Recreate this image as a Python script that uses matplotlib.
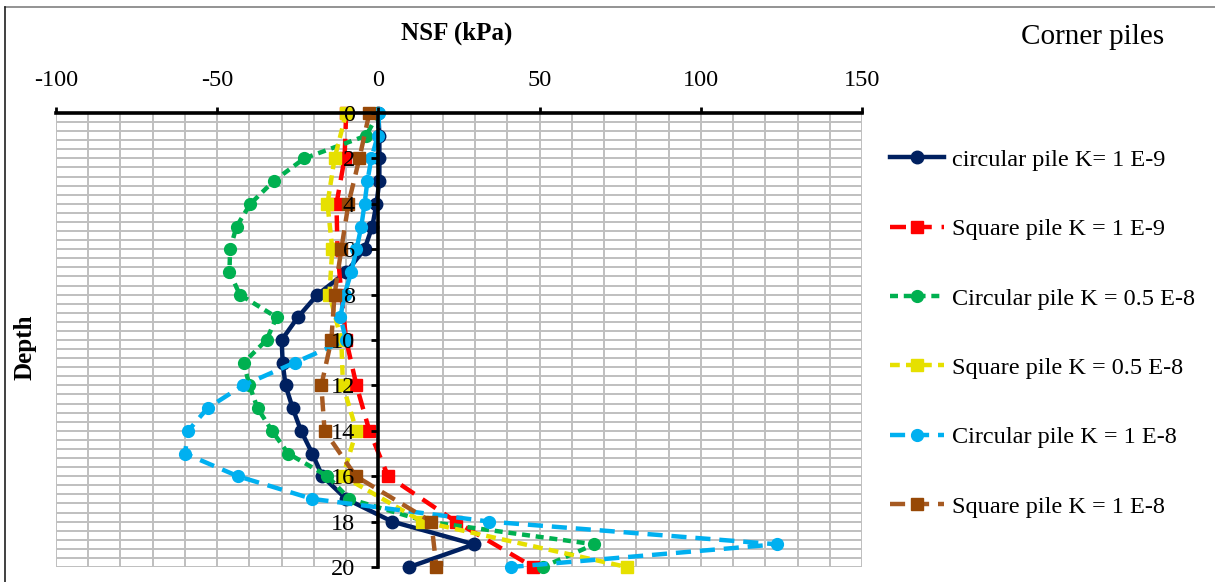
import matplotlib
matplotlib.use("Agg")
import matplotlib.pyplot as plt
from matplotlib.ticker import MultipleLocator
from matplotlib.lines import Line2D
import numpy as np

plt.rcParams["font.family"] = ["Liberation Serif", "DejaVu Serif"]
plt.rcParams["axes.unicode_minus"] = False

# depth below the pile head (m)
depth_circ = list(range(0, 21))
depth_sq = list(range(0, 21, 2))

# negative skin friction, corner piles (kPa)
circ_k1e9 = [0, 0.3, 0.3, 0.3, -0.6, -1.9, -4.3, -9.9, -18.9, -25, -30, -29.7,
             -28.8, -26.6, -24, -20.5, -17.4, -10, 4.3, 29.7, 9.6]
sq_k1e9 = [-10, -10.5, -13, -12.7, -11.5, -10, -6.8, -2.8, 3, 24, 48]
circ_k05e8 = [0, -3.8, -23, -32.5, -39.7, -44, -46, -46.2, -43, -31.6, -34.7,
              -41.8, -40, -37.5, -33, -28, -15.8, -9, 15, 67, 51]
sq_k05e8 = [-10, -13.6, -15.8, -14.3, -15.2, -11.5, -11, -6.8, -11, 13.6, 77]
circ_k1e8 = [0.3, -0.2, -2.2, -3.4, -4.3, -5.3, -6.8, -8.4, -10.5, -11.8, -10,
             -26, -42, -53, -59, -60, -43.6, -20.5, 34.4, 123.6, 41]
sq_k1e8 = [-2.8, -5.9, -9.3, -11.5, -13.6, -14.6, -17.7, -16.7, -7, 16.4, 18]

x_min, x_max = -100, 150
d_max = 20

fig = plt.figure(figsize=(12.15, 5.82), dpi=100)
ax = fig.add_axes([56 / 1215, 15 / 582, 806 / 1215, 454 / 582])
ax.set_axisbelow(False)  # depth labels on top of the curves

# gridlines drawn by hand so they stay under the curves
grid_kw = dict(color="#BFBFBF", lw=1.4, zorder=0.5)
for gx in np.arange(x_min, x_max + 1, 10):
    ax.axvline(gx, **grid_kw)
for gy in np.arange(0, d_max + 0.01, 0.4):
    ax.axhline(gy, **grid_kw)

lw = 3.2
ax.plot(circ_k1e9, depth_circ, color="#002060", lw=lw, marker="o", ms=9,
        label="circular pile K= 1 E-9", clip_on=False)
ax.plot(sq_k1e9, depth_sq, color="#FF0000", lw=lw, ls=(0, (3.6, 2.2)), marker="s", ms=8,
        label="Square pile K = 1 E-9", clip_on=False)
ax.plot(circ_k05e8, depth_circ, color="#00B050", lw=lw, ls=(0, (1.8, 1.3)), marker="o", ms=8.5,
        label="Circular pile K = 0.5 E-8", clip_on=False)
ax.plot(sq_k05e8, depth_sq, color="#E6E000", lw=lw, ls=(0, (2.2, 1.4)), marker="s", ms=8,
        label="Square pile K = 0.5 E-8", clip_on=False)
ax.plot(circ_k1e8, depth_circ, color="#00B0F0", lw=lw, ls=(0, (3.4, 2)), marker="o", ms=8.5,
        label="Circular pile K = 1 E-8", clip_on=False)
ax.plot(sq_k1e8, depth_sq, color="#A65A22", lw=lw, ls=(0, (3.4, 2)), marker="s", ms=8,
        mfc="#974806", mec="#974806", label="Square pile K = 1 E-8", clip_on=False)

ax.set_xlim(x_min, x_max)
ax.set_ylim(d_max, 0)

# x axis along the top, y axis through NSF = 0
ax.xaxis.set_ticks_position("top")
ax.xaxis.set_major_locator(MultipleLocator(50))
ax.yaxis.set_major_locator(MultipleLocator(2))
ax.tick_params(axis="x", which="major", direction="out", length=4.5, width=2,
               pad=11, labelsize=17.5)
ax.tick_params(axis="y", which="major", direction="out", length=5, width=2,
               pad=12, labelsize=17.5)

ax.spines["bottom"].set_visible(False)
ax.spines["right"].set_visible(False)
ax.spines["top"].set_linewidth(2.6)
ax.spines["left"].set_position(("data", 0))
ax.spines["left"].set_linewidth(2.6)

fig.text(457 / 1215, 1 - 33 / 582, "NSF (kPa)", ha="center", va="center",
         fontsize=18, fontweight="bold")
fig.text(1093 / 1215, 1 - 37 / 582, "Corner piles", ha="center", va="center",
         fontsize=21)
fig.text(25 / 1215, 1 - 347 / 582, "Depth", ha="center", va="center",
         rotation=90, fontsize=18, fontweight="bold")

fig.legend(loc="upper left", bbox_to_anchor=(880 / 1215, 1 - 139 / 582),
           frameon=False, fontsize=17.5, handlelength=2.25, handletextpad=0.3,
           labelspacing=1.95, borderaxespad=0)

# chart frame
fig.add_artist(Line2D([5 / 1215, 1], [1 - 7 / 582, 1 - 7 / 582], color="#808080", lw=1.2))
fig.add_artist(Line2D([5 / 1215, 5 / 1215], [0, 1 - 7 / 582], color="#202020", lw=1.2))

fig.savefig("out.png", dpi=100)
